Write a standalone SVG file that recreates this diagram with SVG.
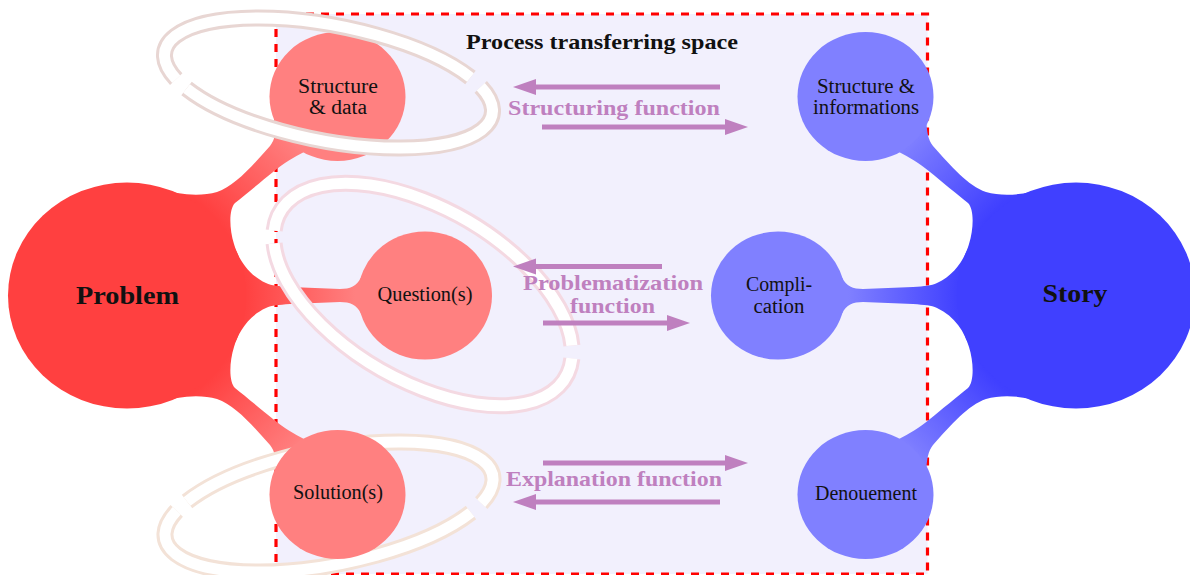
<svg xmlns="http://www.w3.org/2000/svg" width="1190" height="575" viewBox="0 0 1190 575">
<defs>
  <radialGradient id="gP" gradientUnits="userSpaceOnUse" cx="127" cy="295.5" r="235">
    <stop offset="0.5" stop-color="#ff4040"/>
    <stop offset="0.97" stop-color="#ff8080"/>
  </radialGradient>
  <radialGradient id="gS" gradientUnits="userSpaceOnUse" cx="127" cy="295.5" r="235">
    <stop offset="0.5" stop-color="#4040ff"/>
    <stop offset="0.97" stop-color="#8080ff"/>
  </radialGradient>
  <path id="hub" d="M158,188 C178,195 200,197 217,192 C235,186 252,166 270,146 C275,140 276,131 276.5,124 L337.5,96.5 L304,152 C294,157 284,163 273,172 C262,181 245,195 235,203 C229,209 229,228 234,244 C238,258 248,275 266,283 C272,286 278,286 290,287 L340,289 C350,289 357,286 360.6,278 L425,295.5 L360.6,313 C357,305 350,302 340,302 L290,304 C278,305 272,305 266,308 C248,316 238,333 234,347 C229,363 229,382 235,388 C245,396 262,410 273,419 C284,428 294,434 304,439 L337.5,494.5 L276.5,467 C276,460 275,451 270,445 C252,425 235,405 217,399 C200,394 178,396 158,403 Z"/>
  <path id="ringFlat" d="M-150.2,25.3 A167,58 0 0 1 138.3,-32.5 M150.2,-25.3 A167,58 0 0 1 -138.3,32.5"/>
  <path id="ringMid" d="M-160.9,19.05 A165,86 0 0 1 154.5,-30.25 M160.9,-19.05 A165,86 0 0 1 -154.5,30.25"/>
  <path id="head" d="M0,0 L-23,-8 L-23,8 Z"/>
</defs>
<style>
  .bo { fill: none; stroke-width: 17; stroke-linecap: butt; }
  .bi { fill: none; stroke: #ffffff; stroke-width: 11; stroke-linecap: butt; }
  .lbl { font-family: "Liberation Serif", "Times New Roman", serif; font-size: 20px; fill: #111111; text-anchor: middle; }
  .big { font-weight: bold; font-size: 25px; }
  .fn { font-family: "Liberation Serif", "Times New Roman", serif; font-weight: bold; font-size: 22px; fill: #bf80bf; text-anchor: middle; }
  .title { font-family: "Liberation Serif", "Times New Roman", serif; font-weight: bold; font-size: 22px; fill: #111111; text-anchor: middle; }
  .arr { stroke: #bf80bf; stroke-width: 5; fill: none; }
  .hd { fill: #bf80bf; }
  .red1 { fill: #ff4040; }
  .red2 { fill: #ff8080; }
  .blue1 { fill: #4040ff; }
  .blue2 { fill: #8080ff; }
</style>

<g id="space">
  <rect x="276" y="14" width="651.5" height="560" fill="#f2f0fd" stroke="#ff0000" stroke-width="3.2" stroke-dasharray="8 7"/>
  <text class="title" x="602" y="49" textLength="272" lengthAdjust="spacingAndGlyphs">Process transferring space</text>
</g>

<g id="connectors">
  <use href="#hub" fill="url(#gP)"/>
  <use href="#hub" fill="url(#gS)" transform="translate(1203,0) scale(-1,1)"/>
</g>

<g id="cycle-bottom" transform="translate(329,507) scale(1,-1) rotate(11)">
  <use href="#ringFlat" class="bo" stroke="#f3e2d7"/>
  <use href="#ringFlat" class="bi"/>
</g>

<g id="problem">
  <ellipse class="red1" cx="127" cy="295.5" rx="119" ry="113"/>
  <text class="lbl big" x="127.5" y="303.5" textLength="103" lengthAdjust="spacingAndGlyphs">Problem</text>
</g>
<g id="structure-data">
  <ellipse class="red2" cx="337.5" cy="96.5" rx="68" ry="64.5"/>
  <text class="lbl" x="338" y="93" textLength="80" lengthAdjust="spacingAndGlyphs">Structure</text>
  <text class="lbl" x="338" y="113.5" textLength="58" lengthAdjust="spacingAndGlyphs">&amp; data</text>
</g>
<g id="questions">
  <ellipse class="red2" cx="425" cy="295.5" rx="67" ry="64"/>
  <text class="lbl" x="425" y="301" textLength="95" lengthAdjust="spacingAndGlyphs">Question(s)</text>
</g>
<g id="solutions">
  <ellipse class="red2" cx="337.5" cy="494.5" rx="68" ry="64.5"/>
  <text class="lbl" x="338" y="499" textLength="90" lengthAdjust="spacingAndGlyphs">Solution(s)</text>
</g>
<g id="story">
  <ellipse class="blue1" cx="1076" cy="295.5" rx="119" ry="113"/>
  <text class="lbl big" x="1075" y="301.5" textLength="65" lengthAdjust="spacingAndGlyphs">Story</text>
</g>
<g id="structure-informations">
  <ellipse class="blue2" cx="865.5" cy="96.5" rx="68" ry="64.5"/>
  <text class="lbl" x="866" y="92.5" textLength="98" lengthAdjust="spacingAndGlyphs">Structure &amp;</text>
  <text class="lbl" x="866" y="113.5" textLength="106" lengthAdjust="spacingAndGlyphs">informations</text>
</g>
<g id="complication">
  <ellipse class="blue2" cx="778" cy="295.5" rx="67" ry="64"/>
  <text class="lbl" x="779" y="291" textLength="66" lengthAdjust="spacingAndGlyphs">Compli-</text>
  <text class="lbl" x="779" y="312.5" textLength="51" lengthAdjust="spacingAndGlyphs">cation</text>
</g>
<g id="denouement">
  <ellipse class="blue2" cx="865.5" cy="494.5" rx="68" ry="64.5"/>
  <text class="lbl" x="866" y="499.5" textLength="102" lengthAdjust="spacingAndGlyphs">Denouement</text>
</g>

<g id="cycle-top" transform="translate(328.5,83) rotate(11)">
  <use href="#ringFlat" class="bo" stroke="#e8d6d3"/>
  <use href="#ringFlat" class="bi"/>
</g>
<g id="cycle-middle" transform="translate(423,294.5) rotate(30)">
  <use href="#ringMid" class="bo" stroke="#f4d9e2"/>
  <use href="#ringMid" class="bi"/>
</g>

<g id="functions">
  <path class="arr" d="M720,87 H530"/>
  <use href="#head" class="hd" transform="translate(513,87) rotate(180)"/>
  <path class="arr" d="M542,127 H732"/>
  <use href="#head" class="hd" transform="translate(748,127)"/>
  <text class="fn" x="614" y="115" textLength="212" lengthAdjust="spacingAndGlyphs">Structuring function</text>

  <path class="arr" d="M662,266.5 H530"/>
  <use href="#head" class="hd" transform="translate(513,266.5) rotate(180)"/>
  <path class="arr" d="M543,323 H674"/>
  <use href="#head" class="hd" transform="translate(690,323)"/>
  <text class="fn" x="613" y="290" textLength="180" lengthAdjust="spacingAndGlyphs">Problematization</text>
  <text class="fn" x="612.5" y="313" textLength="85" lengthAdjust="spacingAndGlyphs">function</text>

  <path class="arr" d="M543,463 H732"/>
  <use href="#head" class="hd" transform="translate(748,463)"/>
  <path class="arr" d="M720,502 H530"/>
  <use href="#head" class="hd" transform="translate(513,502) rotate(180)"/>
  <text class="fn" x="614" y="486" textLength="216" lengthAdjust="spacingAndGlyphs">Explanation function</text>
</g>
</svg>
